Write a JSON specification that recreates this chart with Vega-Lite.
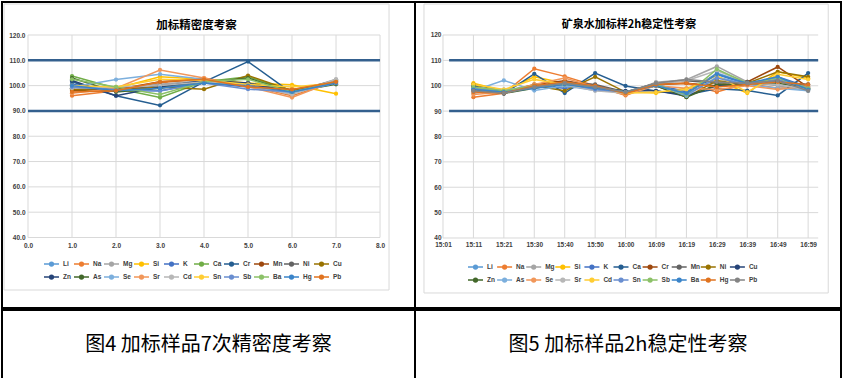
{
"$schema": "https://vega.github.io/schema/vega-lite/v6.json",
"padding": 1,
"background": "white",
"spacing": 0,
"config": {
 "view": {"stroke": "#000000", "strokeWidth": 2},
 "axis": {"grid": false, "domain": false, "ticks": false, "labelFont": "Liberation Sans", "labelFontSize": 6.5, "labelColor": "#404040", "labelFontWeight": "bold", "title": null, "labelOverlap": false, "labelFlush": false, "labelBound": false, "tickCount": 30},
 "legend": {"orient": "none", "direction": "horizontal", "columns": 10, "title": null, "padding": 0, "gridAlign": "all", "symbolType": "M-1.5,0H1.5M-0.375,0A0.375,0.375,0,1,1,0.375,0A0.375,0.375,0,1,1,-0.375,0M-0.15,0A0.15,0.15,0,1,1,0.15,0A0.15,0.15,0,1,1,-0.15,0", "symbolSize": 100, "symbolStrokeWidth": 1.5, "labelFont": "Liberation Sans", "labelFontSize": 6.5, "labelColor": "#404040", "labelFontWeight": "bold", "labelOffset": 5.5, "rowPadding": 2}
},
"datasets": {
 "hg": [{"g":40},{"g":50},{"g":60},{"g":70},{"g":80},{"g":90},{"g":100},{"g":110},{"g":120}],
 "lvg": [{"g":0},{"g":1},{"g":2},{"g":3},{"g":4},{"g":5},{"g":6},{"g":7},{"g":8}],
 "rvg": [{"g":0},{"g":1},{"g":2},{"g":3},{"g":4},{"g":5},{"g":6},{"g":7},{"g":8},{"g":9},{"g":10},{"g":11},{"g":12}],
 "lim": [{"g":90},{"g":110}],
 "lframe": [{"x1": -0.545, "x2": 8.205, "y1": 19.25, "y2": 132.25}],
 "rframe": [{"x1": -0.625, "x2": 12.66, "y1": 18.33, "y2": 132.2}],
 "L": [
{"e":"Li","x":1,"v":100.0},{"e":"Li","x":2,"v":98.5},{"e":"Li","x":3,"v":99.5},{"e":"Li","x":4,"v":101.5},{"e":"Li","x":5,"v":100.0},{"e":"Li","x":6,"v":97.5},{"e":"Li","x":7,"v":101.0},
{"e":"Na","x":1,"v":96.0},{"e":"Na","x":2,"v":98.0},{"e":"Na","x":3,"v":101.0},{"e":"Na","x":4,"v":103.0},{"e":"Na","x":5,"v":100.0},{"e":"Na","x":6,"v":96.0},{"e":"Na","x":7,"v":101.5},
{"e":"Mg","x":1,"v":99.0},{"e":"Mg","x":2,"v":99.0},{"e":"Mg","x":3,"v":100.5},{"e":"Mg","x":4,"v":102.0},{"e":"Mg","x":5,"v":100.5},{"e":"Mg","x":6,"v":97.0},{"e":"Mg","x":7,"v":102.5},
{"e":"Si","x":1,"v":99.5},{"e":"Si","x":2,"v":99.0},{"e":"Si","x":3,"v":103.5},{"e":"Si","x":4,"v":102.5},{"e":"Si","x":5,"v":101.0},{"e":"Si","x":6,"v":100.3},{"e":"Si","x":7,"v":96.8},
{"e":"K","x":1,"v":100.5},{"e":"K","x":2,"v":98.0},{"e":"K","x":3,"v":98.0},{"e":"K","x":4,"v":101.0},{"e":"K","x":5,"v":99.5},{"e":"K","x":6,"v":98.0},{"e":"K","x":7,"v":101.5},
{"e":"Ca","x":1,"v":103.8},{"e":"Ca","x":2,"v":99.0},{"e":"Ca","x":3,"v":95.3},{"e":"Ca","x":4,"v":101.5},{"e":"Ca","x":5,"v":103.5},{"e":"Ca","x":6,"v":98.0},{"e":"Ca","x":7,"v":101.0},
{"e":"Cr","x":1,"v":101.5},{"e":"Cr","x":2,"v":96.0},{"e":"Cr","x":3,"v":92.2},{"e":"Cr","x":4,"v":101.5},{"e":"Cr","x":5,"v":109.5},{"e":"Cr","x":6,"v":97.0},{"e":"Cr","x":7,"v":101.5},
{"e":"Mn","x":1,"v":98.0},{"e":"Mn","x":2,"v":98.5},{"e":"Mn","x":3,"v":101.5},{"e":"Mn","x":4,"v":102.5},{"e":"Mn","x":5,"v":100.0},{"e":"Mn","x":6,"v":98.5},{"e":"Mn","x":7,"v":101.0},
{"e":"Ni","x":1,"v":99.0},{"e":"Ni","x":2,"v":98.0},{"e":"Ni","x":3,"v":100.0},{"e":"Ni","x":4,"v":101.5},{"e":"Ni","x":5,"v":101.0},{"e":"Ni","x":6,"v":98.0},{"e":"Ni","x":7,"v":102.0},
{"e":"Cu","x":1,"v":98.5},{"e":"Cu","x":2,"v":98.0},{"e":"Cu","x":3,"v":99.5},{"e":"Cu","x":4,"v":98.6},{"e":"Cu","x":5,"v":104.0},{"e":"Cu","x":6,"v":98.0},{"e":"Cu","x":7,"v":101.0},
{"e":"Zn","x":1,"v":102.0},{"e":"Zn","x":2,"v":96.0},{"e":"Zn","x":3,"v":99.5},{"e":"Zn","x":4,"v":102.0},{"e":"Zn","x":5,"v":101.0},{"e":"Zn","x":6,"v":97.5},{"e":"Zn","x":7,"v":101.5},
{"e":"As","x":1,"v":103.0},{"e":"As","x":2,"v":97.5},{"e":"As","x":3,"v":99.0},{"e":"As","x":4,"v":101.0},{"e":"As","x":5,"v":103.0},{"e":"As","x":6,"v":97.5},{"e":"As","x":7,"v":100.5},
{"e":"Se","x":1,"v":99.5},{"e":"Se","x":2,"v":102.4},{"e":"Se","x":3,"v":104.5},{"e":"Se","x":4,"v":102.5},{"e":"Se","x":5,"v":100.0},{"e":"Se","x":6,"v":97.0},{"e":"Se","x":7,"v":101.0},
{"e":"Sr","x":1,"v":97.0},{"e":"Sr","x":2,"v":99.0},{"e":"Sr","x":3,"v":106.2},{"e":"Sr","x":4,"v":103.0},{"e":"Sr","x":5,"v":99.5},{"e":"Sr","x":6,"v":95.3},{"e":"Sr","x":7,"v":102.0},
{"e":"Cd","x":1,"v":99.0},{"e":"Cd","x":2,"v":99.5},{"e":"Cd","x":3,"v":100.0},{"e":"Cd","x":4,"v":101.5},{"e":"Cd","x":5,"v":100.0},{"e":"Cd","x":6,"v":96.5},{"e":"Cd","x":7,"v":102.5},
{"e":"Sn","x":1,"v":100.0},{"e":"Sn","x":2,"v":99.5},{"e":"Sn","x":3,"v":102.5},{"e":"Sn","x":4,"v":102.0},{"e":"Sn","x":5,"v":100.5},{"e":"Sn","x":6,"v":99.5},{"e":"Sn","x":7,"v":101.0},
{"e":"Sb","x":1,"v":99.5},{"e":"Sb","x":2,"v":98.5},{"e":"Sb","x":3,"v":97.9},{"e":"Sb","x":4,"v":101.0},{"e":"Sb","x":5,"v":98.6},{"e":"Sb","x":6,"v":97.5},{"e":"Sb","x":7,"v":101.0},
{"e":"Ba","x":1,"v":102.5},{"e":"Ba","x":2,"v":99.5},{"e":"Ba","x":3,"v":96.5},{"e":"Ba","x":4,"v":101.5},{"e":"Ba","x":5,"v":102.5},{"e":"Ba","x":6,"v":97.5},{"e":"Ba","x":7,"v":101.5},
{"e":"Hg","x":1,"v":100.0},{"e":"Hg","x":2,"v":98.0},{"e":"Hg","x":3,"v":99.0},{"e":"Hg","x":4,"v":101.0},{"e":"Hg","x":5,"v":100.0},{"e":"Hg","x":6,"v":97.5},{"e":"Hg","x":7,"v":101.0},
{"e":"Pb","x":1,"v":97.5},{"e":"Pb","x":2,"v":98.0},{"e":"Pb","x":3,"v":101.5},{"e":"Pb","x":4,"v":102.5},{"e":"Pb","x":5,"v":99.5},{"e":"Pb","x":6,"v":98.5},{"e":"Pb","x":7,"v":101.5}
 ],
 "R": [
{"e":"Li","x":1,"v":99.0},{"e":"Li","x":2,"v":97.5},{"e":"Li","x":3,"v":99.5},{"e":"Li","x":4,"v":100.5},{"e":"Li","x":5,"v":99.0},{"e":"Li","x":6,"v":97.5},{"e":"Li","x":7,"v":100.0},{"e":"Li","x":8,"v":97.0},{"e":"Li","x":9,"v":105.0},{"e":"Li","x":10,"v":101.0},{"e":"Li","x":11,"v":102.5},{"e":"Li","x":12,"v":98.5},
{"e":"Na","x":1,"v":95.5},{"e":"Na","x":2,"v":97.0},{"e":"Na","x":3,"v":106.7},{"e":"Na","x":4,"v":103.7},{"e":"Na","x":5,"v":100.0},{"e":"Na","x":6,"v":96.2},{"e":"Na","x":7,"v":100.5},{"e":"Na","x":8,"v":101.0},{"e":"Na","x":9,"v":97.5},{"e":"Na","x":10,"v":101.0},{"e":"Na","x":11,"v":99.0},{"e":"Na","x":12,"v":99.5},
{"e":"Mg","x":1,"v":97.0},{"e":"Mg","x":2,"v":98.5},{"e":"Mg","x":3,"v":99.0},{"e":"Mg","x":4,"v":101.0},{"e":"Mg","x":5,"v":98.5},{"e":"Mg","x":6,"v":97.0},{"e":"Mg","x":7,"v":101.4},{"e":"Mg","x":8,"v":102.4},{"e":"Mg","x":9,"v":107.6},{"e":"Mg","x":10,"v":101.5},{"e":"Mg","x":11,"v":100.0},{"e":"Mg","x":12,"v":98.0},
{"e":"Si","x":1,"v":101.0},{"e":"Si","x":2,"v":98.0},{"e":"Si","x":3,"v":103.5},{"e":"Si","x":4,"v":101.0},{"e":"Si","x":5,"v":99.0},{"e":"Si","x":6,"v":97.5},{"e":"Si","x":7,"v":97.1},{"e":"Si","x":8,"v":99.0},{"e":"Si","x":9,"v":102.1},{"e":"Si","x":10,"v":97.1},{"e":"Si","x":11,"v":105.5},{"e":"Si","x":12,"v":103.0},
{"e":"K","x":1,"v":99.5},{"e":"K","x":2,"v":97.0},{"e":"K","x":3,"v":100.0},{"e":"K","x":4,"v":99.0},{"e":"K","x":5,"v":100.0},{"e":"K","x":6,"v":97.5},{"e":"K","x":7,"v":100.5},{"e":"K","x":8,"v":97.6},{"e":"K","x":9,"v":104.5},{"e":"K","x":10,"v":100.5},{"e":"K","x":11,"v":103.5},{"e":"K","x":12,"v":99.5},
{"e":"Ca","x":1,"v":100.0},{"e":"Ca","x":2,"v":96.8},{"e":"Ca","x":3,"v":104.7},{"e":"Ca","x":4,"v":97.1},{"e":"Ca","x":5,"v":105.0},{"e":"Ca","x":6,"v":99.9},{"e":"Ca","x":7,"v":97.9},{"e":"Ca","x":8,"v":96.5},{"e":"Ca","x":9,"v":98.8},{"e":"Ca","x":10,"v":98.1},{"e":"Ca","x":11,"v":96.2},{"e":"Ca","x":12,"v":105.0},
{"e":"Cr","x":1,"v":98.0},{"e":"Cr","x":2,"v":97.5},{"e":"Cr","x":3,"v":100.5},{"e":"Cr","x":4,"v":102.0},{"e":"Cr","x":5,"v":100.0},{"e":"Cr","x":6,"v":97.0},{"e":"Cr","x":7,"v":100.5},{"e":"Cr","x":8,"v":101.0},{"e":"Cr","x":9,"v":100.0},{"e":"Cr","x":10,"v":101.5},{"e":"Cr","x":11,"v":107.4},{"e":"Cr","x":12,"v":99.5},
{"e":"Mn","x":1,"v":98.5},{"e":"Mn","x":2,"v":97.0},{"e":"Mn","x":3,"v":99.5},{"e":"Mn","x":4,"v":101.5},{"e":"Mn","x":5,"v":100.5},{"e":"Mn","x":6,"v":97.5},{"e":"Mn","x":7,"v":101.0},{"e":"Mn","x":8,"v":102.0},{"e":"Mn","x":9,"v":101.0},{"e":"Mn","x":10,"v":101.5},{"e":"Mn","x":11,"v":102.0},{"e":"Mn","x":12,"v":98.5},
{"e":"Ni","x":1,"v":100.5},{"e":"Ni","x":2,"v":97.5},{"e":"Ni","x":3,"v":100.0},{"e":"Ni","x":4,"v":98.0},{"e":"Ni","x":5,"v":103.5},{"e":"Ni","x":6,"v":97.5},{"e":"Ni","x":7,"v":100.0},{"e":"Ni","x":8,"v":95.5},{"e":"Ni","x":9,"v":102.0},{"e":"Ni","x":10,"v":101.0},{"e":"Ni","x":11,"v":105.5},{"e":"Ni","x":12,"v":103.5},
{"e":"Cu","x":1,"v":99.5},{"e":"Cu","x":2,"v":98.0},{"e":"Cu","x":3,"v":100.0},{"e":"Cu","x":4,"v":100.5},{"e":"Cu","x":5,"v":99.0},{"e":"Cu","x":6,"v":98.0},{"e":"Cu","x":7,"v":98.0},{"e":"Cu","x":8,"v":96.0},{"e":"Cu","x":9,"v":100.0},{"e":"Cu","x":10,"v":100.5},{"e":"Cu","x":11,"v":101.5},{"e":"Cu","x":12,"v":100.5},
{"e":"Zn","x":1,"v":98.5},{"e":"Zn","x":2,"v":97.0},{"e":"Zn","x":3,"v":99.0},{"e":"Zn","x":4,"v":101.0},{"e":"Zn","x":5,"v":99.5},{"e":"Zn","x":6,"v":97.0},{"e":"Zn","x":7,"v":100.0},{"e":"Zn","x":8,"v":95.5},{"e":"Zn","x":9,"v":100.5},{"e":"Zn","x":10,"v":100.5},{"e":"Zn","x":11,"v":101.0},{"e":"Zn","x":12,"v":99.0},
{"e":"As","x":1,"v":98.0},{"e":"As","x":2,"v":102.1},{"e":"As","x":3,"v":98.1},{"e":"As","x":4,"v":100.0},{"e":"As","x":5,"v":98.1},{"e":"As","x":6,"v":97.5},{"e":"As","x":7,"v":100.5},{"e":"As","x":8,"v":96.0},{"e":"As","x":9,"v":103.5},{"e":"As","x":10,"v":100.5},{"e":"As","x":11,"v":99.0},{"e":"As","x":12,"v":98.0},
{"e":"Se","x":1,"v":96.5},{"e":"Se","x":2,"v":97.5},{"e":"Se","x":3,"v":100.5},{"e":"Se","x":4,"v":103.0},{"e":"Se","x":5,"v":99.5},{"e":"Se","x":6,"v":96.5},{"e":"Se","x":7,"v":100.0},{"e":"Se","x":8,"v":99.0},{"e":"Se","x":9,"v":98.5},{"e":"Se","x":10,"v":100.0},{"e":"Se","x":11,"v":98.5},{"e":"Se","x":12,"v":100.0},
{"e":"Sr","x":1,"v":99.0},{"e":"Sr","x":2,"v":98.5},{"e":"Sr","x":3,"v":99.5},{"e":"Sr","x":4,"v":100.5},{"e":"Sr","x":5,"v":98.0},{"e":"Sr","x":6,"v":97.0},{"e":"Sr","x":7,"v":101.0},{"e":"Sr","x":8,"v":102.0},{"e":"Sr","x":9,"v":106.0},{"e":"Sr","x":10,"v":101.0},{"e":"Sr","x":11,"v":100.5},{"e":"Sr","x":12,"v":98.5},
{"e":"Cd","x":1,"v":100.5},{"e":"Cd","x":2,"v":98.5},{"e":"Cd","x":3,"v":102.5},{"e":"Cd","x":4,"v":100.5},{"e":"Cd","x":5,"v":99.5},{"e":"Cd","x":6,"v":97.0},{"e":"Cd","x":7,"v":97.5},{"e":"Cd","x":8,"v":98.5},{"e":"Cd","x":9,"v":104.0},{"e":"Cd","x":10,"v":97.5},{"e":"Cd","x":11,"v":104.5},{"e":"Cd","x":12,"v":102.5},
{"e":"Sn","x":1,"v":99.0},{"e":"Sn","x":2,"v":97.5},{"e":"Sn","x":3,"v":99.5},{"e":"Sn","x":4,"v":101.0},{"e":"Sn","x":5,"v":98.5},{"e":"Sn","x":6,"v":97.5},{"e":"Sn","x":7,"v":100.5},{"e":"Sn","x":8,"v":96.5},{"e":"Sn","x":9,"v":103.0},{"e":"Sn","x":10,"v":100.5},{"e":"Sn","x":11,"v":102.5},{"e":"Sn","x":12,"v":99.0},
{"e":"Sb","x":1,"v":99.5},{"e":"Sb","x":2,"v":98.0},{"e":"Sb","x":3,"v":100.0},{"e":"Sb","x":4,"v":100.5},{"e":"Sb","x":5,"v":99.5},{"e":"Sb","x":6,"v":97.5},{"e":"Sb","x":7,"v":100.5},{"e":"Sb","x":8,"v":96.5},{"e":"Sb","x":9,"v":106.5},{"e":"Sb","x":10,"v":101.0},{"e":"Sb","x":11,"v":103.0},{"e":"Sb","x":12,"v":99.0},
{"e":"Ba","x":1,"v":98.5},{"e":"Ba","x":2,"v":97.5},{"e":"Ba","x":3,"v":99.0},{"e":"Ba","x":4,"v":100.5},{"e":"Ba","x":5,"v":99.0},{"e":"Ba","x":6,"v":97.5},{"e":"Ba","x":7,"v":100.0},{"e":"Ba","x":8,"v":97.0},{"e":"Ba","x":9,"v":104.5},{"e":"Ba","x":10,"v":101.0},{"e":"Ba","x":11,"v":103.5},{"e":"Ba","x":12,"v":98.5},
{"e":"Hg","x":1,"v":97.5},{"e":"Hg","x":2,"v":97.0},{"e":"Hg","x":3,"v":100.0},{"e":"Hg","x":4,"v":101.5},{"e":"Hg","x":5,"v":100.0},{"e":"Hg","x":6,"v":97.0},{"e":"Hg","x":7,"v":100.5},{"e":"Hg","x":8,"v":101.0},{"e":"Hg","x":9,"v":99.5},{"e":"Hg","x":10,"v":100.5},{"e":"Hg","x":11,"v":101.5},{"e":"Hg","x":12,"v":100.5},
{"e":"Pb","x":1,"v":98.0},{"e":"Pb","x":2,"v":97.0},{"e":"Pb","x":3,"v":99.5},{"e":"Pb","x":4,"v":101.0},{"e":"Pb","x":5,"v":99.5},{"e":"Pb","x":6,"v":97.5},{"e":"Pb","x":7,"v":101.0},{"e":"Pb","x":8,"v":102.5},{"e":"Pb","x":9,"v":101.5},{"e":"Pb","x":10,"v":101.0},{"e":"Pb","x":11,"v":102.0},{"e":"Pb","x":12,"v":98.0}
 ],
 "cap1": [{"c": "图4 加标样品7次精密度考察"}],
 "cap2": [{"c": "图5 加标样品2h稳定性考察"}]
},
"resolve": {"scale": {"color": "independent"}, "legend": {"color": "independent"}},
"vconcat": [
 {
  "hconcat": [
   {
    "width": 413, "height": 306,
    "title": {"text": "加标精密度考察", "frame": "group", "anchor": "middle", "offset": -35, "baseline": "middle", "dx": -12, "fontSize": 11.5, "font": "Noto Sans CJK SC", "fontWeight": "bold", "color": "#000000"},
    "layer": [
     {"data": {"name": "hg"}, "mark": {"type": "rule", "color": "#D9D9D9", "strokeWidth": 1},
      "encoding": {"y": {"field": "g", "type": "quantitative", "scale": {"domain": [12.14, 133.04], "nice": false, "zero": false},
                         "axis": {"values": [40,50,60,70,80,90,100,110,120], "format": ".1f", "offset": -26, "labelPadding": 3, "labelOverlap": false, "tickCount": 30, "title": null}},
                   "x": {"datum": 0, "type": "quantitative", "scale": {"domain": [-0.591, 8.795], "nice": false, "zero": false},
                         "axis": {"values": [0,1,2,3,4,5,6,7,8], "format": ".1f", "offset": -70.5, "labelPadding": 5, "labelOverlap": false, "tickCount": 30, "title": null}},
                   "x2": {"datum": 8}}},
     {"data": {"name": "lframe"}, "mark": {"type": "rect", "fill": null, "fillOpacity": 0, "stroke": "#D9D9D9", "strokeWidth": 1},
      "encoding": {"x": {"field": "x1", "type": "quantitative", "scale": {"domain": [-0.591, 8.795], "nice": false, "zero": false}},
                   "x2": {"field": "x2"},
                   "y": {"field": "y1", "type": "quantitative", "scale": {"domain": [12.14, 133.04], "nice": false, "zero": false}},
                   "y2": {"field": "y2"}}},
     {"data": {"name": "lvg"}, "mark": {"type": "rule", "color": "#D9D9D9", "strokeWidth": 1},
      "encoding": {"x": {"field": "g", "type": "quantitative", "scale": {"domain": [-0.591, 8.795], "nice": false, "zero": false}},
                   "y": {"datum": 40, "type": "quantitative", "scale": {"domain": [12.14, 133.04], "nice": false, "zero": false}},
                   "y2": {"datum": 120}}},
     {"data": {"name": "lim"}, "mark": {"type": "rule", "color": "#34608E", "strokeWidth": 2.5},
      "encoding": {"y": {"field": "g", "type": "quantitative", "scale": {"domain": [12.14, 133.04], "nice": false, "zero": false}},
                   "x": {"datum": 0, "type": "quantitative", "scale": {"domain": [-0.591, 8.795], "nice": false, "zero": false}},
                   "x2": {"datum": 8}}},
     {"data": {"name": "L"}, "mark": {"type": "line", "strokeWidth": 1.5, "point": {"filled": true, "size": 18}},
      "encoding": {
       "x": {"field": "x", "type": "quantitative", "scale": {"domain": [-0.591, 8.795], "nice": false, "zero": false}},
       "y": {"field": "v", "type": "quantitative", "scale": {"domain": [12.14, 133.04], "nice": false, "zero": false}},
       "color": {"field": "e", "type": "nominal",
                 "scale": {"domain": ["Li","Na","Mg","Si","K","Ca","Cr","Mn","Ni","Cu","Zn","As","Se","Sr","Cd","Sn","Sb","Ba","Hg","Pb"],
                           "range": ["#5B9BD5","#ED7D31","#A5A5A5","#FFC000","#4472C4","#70AD47","#255E91","#9E480E","#636363","#997300","#264478","#43682B","#7CAFDD","#F1975A","#B7B7B7","#FFCD33","#698ED0","#8CC168","#3A84C9","#E0731F"]},
                 "legend": {"legendX": 43.5, "legendY": 256, "columnPadding": -2}}
      }}
    ]
   },
   {
    "width": 426, "height": 306,
    "title": {"text": "矿泉水加标样2h稳定性考察", "frame": "group", "anchor": "middle", "offset": -34, "baseline": "middle", "dx": 1, "fontSize": 11, "font": "Noto Sans CJK SC", "fontWeight": "bold", "color": "#000000"},
    "layer": [
     {"data": {"name": "hg"}, "mark": {"type": "rule", "color": "#D9D9D9", "strokeWidth": 1},
      "encoding": {"y": {"field": "g", "type": "quantitative", "scale": {"domain": [12.41, 133.0], "nice": false, "zero": false},
                         "axis": {"values": [40,50,60,70,80,90,100,110,120], "format": "d", "offset": -28, "labelPadding": 2, "labelOverlap": false, "tickCount": 30, "title": null}},
                   "x": {"datum": 0, "type": "quantitative", "scale": {"domain": [-0.92, 13.08], "nice": false, "zero": false},
                         "axis": {"values": [0,1,2,3,4,5,6,7,8,9,10,11,12], "labelExpr": "['15:01','15:11','15:21','15:30','15:40','15:50','16:00','16:09','16:19','16:29','16:39','16:49','16:59'][datum.value]", "offset": -70, "labelPadding": 3, "labelOverlap": false, "tickCount": 30, "title": null}},
                   "x2": {"datum": 12.33}}},
     {"data": {"name": "rframe"}, "mark": {"type": "rect", "fill": null, "fillOpacity": 0, "stroke": "#D9D9D9", "strokeWidth": 1},
      "encoding": {"x": {"field": "x1", "type": "quantitative", "scale": {"domain": [-0.92, 13.08], "nice": false, "zero": false}},
                   "x2": {"field": "x2"},
                   "y": {"field": "y1", "type": "quantitative", "scale": {"domain": [12.41, 133.0], "nice": false, "zero": false}},
                   "y2": {"field": "y2"}}},
     {"data": {"name": "rvg"}, "mark": {"type": "rule", "color": "#D9D9D9", "strokeWidth": 1},
      "encoding": {"x": {"field": "g", "type": "quantitative", "scale": {"domain": [-0.92, 13.08], "nice": false, "zero": false}},
                   "y": {"datum": 40, "type": "quantitative", "scale": {"domain": [12.41, 133.0], "nice": false, "zero": false}},
                   "y2": {"datum": 120}}},
     {"data": {"name": "lim"}, "mark": {"type": "rule", "color": "#34608E", "strokeWidth": 2.5},
      "encoding": {"y": {"field": "g", "type": "quantitative", "scale": {"domain": [12.41, 133.0], "nice": false, "zero": false}},
                   "x": {"datum": 0.2, "type": "quantitative", "scale": {"domain": [-0.92, 13.08], "nice": false, "zero": false}},
                   "x2": {"datum": 12.33}}},
     {"data": {"name": "R"}, "mark": {"type": "line", "strokeWidth": 1.5, "point": {"filled": true, "size": 18}},
      "encoding": {
       "x": {"field": "x", "type": "quantitative", "scale": {"domain": [-0.92, 13.08], "nice": false, "zero": false}},
       "y": {"field": "v", "type": "quantitative", "scale": {"domain": [12.41, 133.0], "nice": false, "zero": false}},
       "color": {"field": "e", "type": "nominal",
                 "scale": {"domain": ["Li","Na","Mg","Si","K","Ca","Cr","Mn","Ni","Cu","Zn","As","Se","Sr","Cd","Sn","Sb","Ba","Hg","Pb"],
                           "range": ["#5B9BD5","#ED7D31","#A5A5A5","#FFC000","#4472C4","#255E91","#9E480E","#636363","#997300","#264478","#43682B","#7CAFDD","#F1975A","#B7B7B7","#FFCD33","#698ED0","#8CC168","#3A84C9","#E0731F","#848484"]},
                 "legend": {"legendX": 54.5, "legendY": 259, "columnPadding": -2.9}}
      }}
    ]
   }
  ],
  "spacing": 0,
  "bounds": "flush",
  "resolve": {"scale": {"color": "independent"}, "legend": {"color": "independent"}}
 },
 {
  "hconcat": [
   {"width": 413, "height": 69, "view": {"stroke": "#000000", "strokeWidth": 2}, "data": {"name": "cap1"}, "mark": {"type": "text", "font": "Noto Sans CJK SC", "fontSize": 20, "color": "#000000", "baseline": "middle", "align": "center"},
    "encoding": {"text": {"field": "c", "type": "nominal"},
                 "x": {"datum": 0.5, "type": "quantitative", "scale": {"domain": [0, 1]}, "axis": null},
                 "y": {"datum": 0.5, "type": "quantitative", "scale": {"domain": [0, 1]}, "axis": null}}},
   {"width": 426, "height": 69, "view": {"stroke": "#000000", "strokeWidth": 2}, "data": {"name": "cap2"}, "mark": {"type": "text", "font": "Noto Sans CJK SC", "fontSize": 20, "color": "#000000", "baseline": "middle", "align": "center"},
    "encoding": {"text": {"field": "c", "type": "nominal"},
                 "x": {"datum": 0.5, "type": "quantitative", "scale": {"domain": [0, 1]}, "axis": null},
                 "y": {"datum": 0.5, "type": "quantitative", "scale": {"domain": [0, 1]}, "axis": null}}}
  ],
  "spacing": 0,
  "bounds": "flush"
 }
]
}
